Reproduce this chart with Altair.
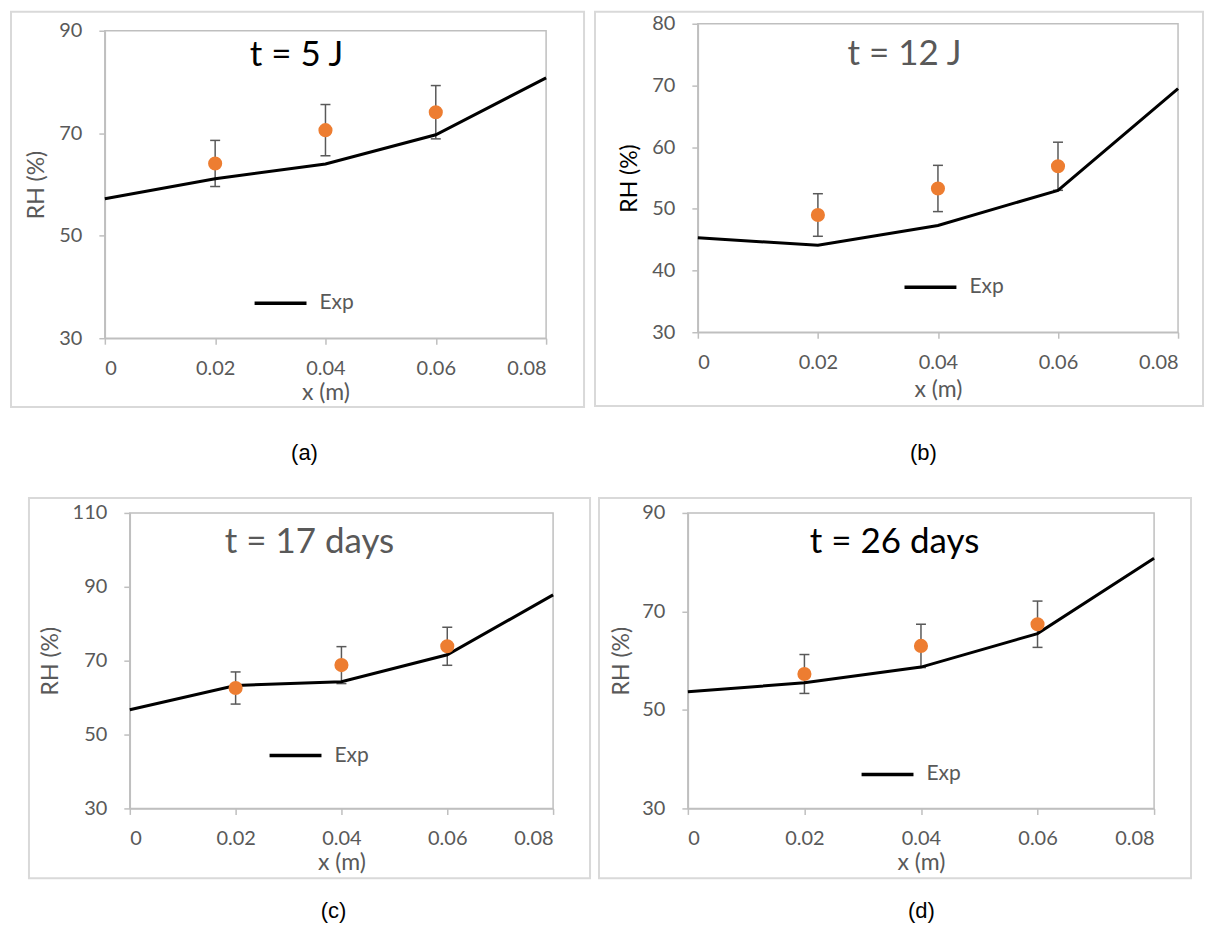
import altair as alt
import pandas as pd

# ---------------- data ----------------
x_sim = [0, 0.02, 0.04, 0.06, 0.08]
x_exp = [0.02, 0.04, 0.06]
x_ticks = [0, 0.02, 0.04, 0.06, 0.08]

a_sim = [57.2, 61.1, 64.0, 69.7, 80.8]
a_exp = [64.1, 70.6, 74.1]
a_err = [4.5, 5.0, 5.2]

b_sim = [45.3, 44.1, 47.3, 53.0, 69.5]
b_exp = [49.0, 53.3, 56.9]
b_err = [3.45, 3.75, 3.9]

c_sim = [56.7, 63.3, 64.3, 71.6, 87.8]
c_exp = [62.6, 68.8, 73.9]
c_err = [4.35, 5.0, 5.15]

d_sim = [53.7, 55.5, 58.7, 65.5, 80.8]
d_exp = [57.3, 63.0, 67.4]
d_err = [3.95, 4.4, 4.7]

titles = ["t = 5 J", "t = 12 J", "t = 17 days", "t = 26 days"]
captions = ["(a)", "(b)", "(c)", "(d)"]
y_domains = [[30, 90], [30, 80], [30, 110], [30, 90]]
y_ticks = [[30, 50, 70, 90], [30, 40, 50, 60, 70, 80], [30, 50, 70, 90, 110], [30, 50, 70, 90]]

# ---------------- layout / style per panel (pixels relative to plot area) ----------------
layout = [
    dict(W=442, H=308, tc="#000000", ytc="#595959", txy=(192, 35),
         cell=(-95, 486, -20, 439), box=(-94, 480, -19, 377),
         leg=(148, 271), cap=(200, 423), ytx=-68, xty=54),
    dict(W=481, H=309, tc="#595959", ytc="#000000", txy=(207, 41),
         cell=(-106, 507, -13, 446), box=(-103, 506, -12, 383),
         leg=(205, 262), cap=(226, 430), ytx=-68, xty=57),
    dict(W=424, H=296, tc="#595959", ytc="#595959", txy=(180, 40),
         cell=(-120, 464, -41, 411), box=(-101, 461, -15, 366),
         leg=(138, 241), cap=(204, 399), ytx=-79, xty=54),
    dict(W=467, H=296, tc="#000000", ytc="#595959", txy=(207, 40),
         cell=(-93, 517, -41, 411), box=(-89, 504, -15, 366),
         leg=(172, 260), cap=(234, 399), ytx=-66, xty=54),
]

FONT = "Lato"
GRAY = "#595959"
ORANGE = "#ED7D31"
LEG_LEN = 52
ONE = pd.DataFrame({"k": [0]})


def make_panel(sim, exp, err, ydom, yt, title, caption, p):
    W, H = p["W"], p["H"]
    df_line = pd.DataFrame({"x": x_sim, "rh": sim, "series": ["Exp"] * len(x_sim)})
    df_pts = pd.DataFrame({
        "x": x_exp,
        "rh": exp,
        "lo": [v - e for v, e in zip(exp, err)],
        "hi": [v + e for v, e in zip(exp, err)],
    })

    xs = alt.Scale(domain=[0, 0.08], nice=False, zero=False)
    ys = alt.Scale(domain=ydom, nice=False, zero=False)

    common = dict(labelFont=FONT, labelFontSize=20, labelColor=GRAY,
                  titleFont=FONT, titleFontSize=23, titleFontWeight="normal",
                  domainColor="#bfbfbf", domainWidth=1.5, tickColor="#bfbfbf",
                  tickWidth=1.5, tickSize=6, grid=False)
    x_axis = alt.Axis(values=x_ticks,
                      labelExpr="datum.value == 0 ? '0' : format(datum.value, '.2f')",
                      title="x (m)", titleColor=GRAY, titleY=p["xty"],
                      titleBaseline="middle", labelPadding=14, **common)
    y_axis = alt.Axis(values=yt, title="RH (%)", titleColor=p["ytc"],
                      titleX=p["ytx"], titleY=H / 2, titleBaseline="middle",
                      titleAngle=270, labelPadding=17, **common)

    def X():
        return alt.X("x:Q", scale=xs, axis=x_axis)

    def Y(field):
        return alt.Y(field + ":Q", scale=ys, axis=y_axis)

    cx1, cx2, cy1, cy2 = p["cell"]
    cell = alt.Chart(ONE).mark_rect(opacity=0).encode(
        x=alt.value(cx1), x2=alt.value(cx2), y=alt.value(cy1), y2=alt.value(cy2))
    bx1, bx2, by1, by2 = p["box"]
    box = alt.Chart(ONE).mark_rect(fillOpacity=0, stroke="#d9d9d9", strokeWidth=2).encode(
        x=alt.value(bx1), x2=alt.value(bx2), y=alt.value(by1), y2=alt.value(by2))

    err_rule = alt.Chart(df_pts).mark_rule(color=GRAY, strokeWidth=1.5).encode(
        x=X(), y=Y("lo"), y2="hi:Q")
    cap_hi = alt.Chart(df_pts).mark_tick(orient="horizontal", size=10, thickness=1.5,
                                         color=GRAY, opacity=1).encode(x=X(), y=Y("hi"))
    cap_lo = alt.Chart(df_pts).mark_tick(orient="horizontal", size=10, thickness=1.5,
                                         color=GRAY, opacity=1).encode(x=X(), y=Y("lo"))

    lx, ly = p["leg"]
    legend = alt.Legend(orient="none", legendX=lx, legendY=ly - LEG_LEN / 2,
                        title=None, symbolType="stroke", symbolSize=LEG_LEN * LEG_LEN,
                        symbolStrokeWidth=3.5, labelFont=FONT, labelFontSize=21,
                        labelColor=GRAY, labelOffset=11, padding=0)
    line = alt.Chart(df_line).mark_line(strokeWidth=3).encode(
        x=X(), y=Y("rh"),
        color=alt.Color("series:N", scale=alt.Scale(domain=["Exp"], range=["#000000"]),
                        legend=legend))
    pts = alt.Chart(df_pts).mark_circle(size=200, color=ORANGE, opacity=1).encode(
        x=X(), y=Y("rh"))

    tx, ty = p["txy"]
    ttl = alt.Chart(ONE).mark_text(font=FONT, fontSize=35, color=p["tc"], align="center",
                                   baseline="alphabetic").encode(
        x=alt.value(tx), y=alt.value(ty), text=alt.value(title))
    kx, ky = p["cap"]
    cap = alt.Chart(ONE).mark_text(font="Liberation Sans", fontSize=22, color="#000000",
                                   align="center", baseline="middle").encode(
        x=alt.value(kx), y=alt.value(ky), text=alt.value(caption))

    return alt.layer(cell, box, err_rule, cap_hi, cap_lo, line, pts, ttl, cap).properties(
        width=W, height=H)


def spacer():
    # 1x1 invisible view used only to anchor the grid layout
    return alt.Chart(ONE).mark_rule(opacity=0, strokeWidth=0).encode(
        x=alt.value(0), y=alt.value(0), y2=alt.value(0)).properties(
        width=1, height=1, view=alt.ViewBackground(stroke="transparent", strokeWidth=0))


def indep(c):
    return c.resolve_scale(color="independent").resolve_legend(color="independent")


def wrap(panel):
    return indep(alt.vconcat(spacer(), panel, spacing=0, bounds="full"))


sims = [a_sim, b_sim, c_sim, d_sim]
exps = [a_exp, b_exp, c_exp, d_exp]
errs = [a_err, b_err, c_err, d_err]

panels = [make_panel(sims[i], exps[i], errs[i], y_domains[i], y_ticks[i], titles[i],
                     captions[i], layout[i]) for i in range(4)]

row1 = indep(alt.hconcat(spacer(), wrap(panels[0]), wrap(panels[1]), spacing=0, bounds="full"))
row2 = indep(alt.hconcat(spacer(), wrap(panels[2]), wrap(panels[3]), spacing=0, bounds="full"))

chart = indep(alt.vconcat(row1, row2, spacing=0, bounds="full")).properties(
    padding=0, background="#ffffff").configure_view(stroke="#bfbfbf", strokeWidth=1.5)

chart.save("out.html", embed_options={"renderer": "svg", "actions": False})
